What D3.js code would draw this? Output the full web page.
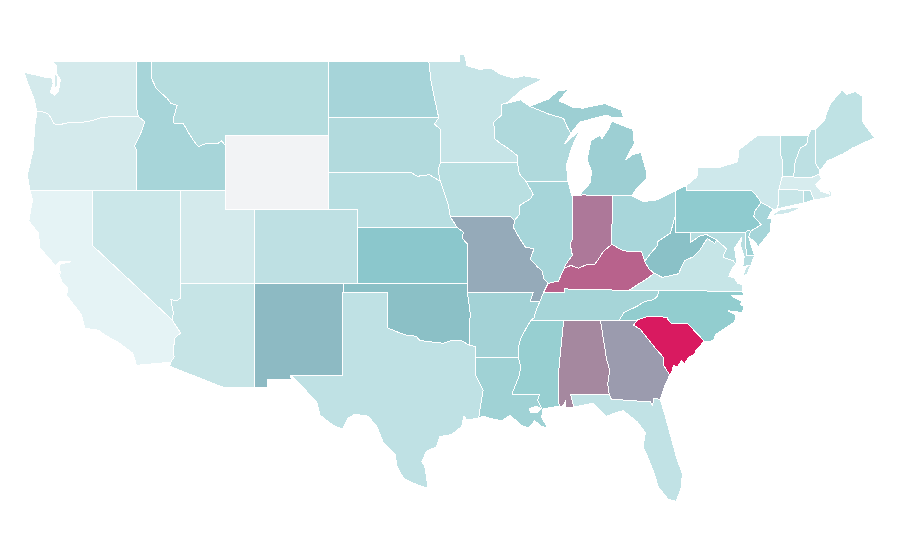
<!DOCTYPE html>
<html><head><meta charset="utf-8"><title>US states</title>
<script src="https://cdn.jsdelivr.net/npm/d3@7"></script>
<style>html,body{margin:0;background:#fff}svg{display:block}
path{stroke:#fff;stroke-width:1;stroke-linejoin:round;shape-rendering:crispEdges;fill-rule:evenodd}</style></head><body>
<svg id="map" width="900" height="560"></svg>
<script>
// Shared borders, [lon, lat]
const columbia=[[-123.8,46.25],[-123.4,46.25],[-123.0,46.12],[-122.8,45.85],[-122.65,45.6],[-122.2,45.57],[-121.5,45.7],[-120.8,45.68],[-120.2,45.75],[-119.5,45.92],[-118.9,45.98],[-116.92,46.0]];
const snake=[[-116.92,46.0],[-116.5,45.72],[-116.65,45.3],[-116.9,44.85],[-117.2,44.4],[-117.05,44.2],[-117.03,43.8],[-117.03,42]];
const idMt=[[-116.05,49],[-116.05,48.1],[-115.7,47.5],[-115.0,47.0],[-114.7,46.7],[-114.3,46.6],[-114.55,45.9],[-114.5,45.6],[-113.9,45.65],[-113.5,45.1],[-113.1,44.6],[-112.85,44.38],[-112.3,44.55],[-111.5,44.55],[-111.3,44.7],[-111.05,44.45]];
const colorado=[[-114.05,36.2],[-114.3,36.05],[-114.72,36.1],[-114.55,35.4],[-114.63,35.0]];
const caAz=[[-114.63,35.0],[-114.4,34.7],[-114.05,34.3],[-114.45,34.03],[-114.55,33.4],[-114.5,33.0],[-114.72,32.72]];
const redRiver=[[-100,34.56],[-99.5,34.4],[-99.2,34.3],[-98.6,34.15],[-98.1,34.13],[-97.85,33.9],[-97.4,33.85],[-96.95,33.8],[-96.5,33.8],[-96.3,33.72],[-95.8,33.87],[-95.1,33.92],[-94.48,33.64]];
const rioGrande=[[-97.3,25.9],[-98.05,26.1],[-98.95,26.45],[-99.4,27.1],[-99.5,27.7],[-100.3,28.35],[-100.75,29.25],[-101.35,29.8],[-102.25,29.9],[-102.7,29.7],[-103.1,29.1],[-103.7,29.3],[-104.6,29.85],[-104.85,30.6],[-105.95,31.5],[-106.5,31.94],[-106.62,32]];
const ndMn=[[-97.23,49],[-97.1,48.0],[-96.85,47.0],[-96.56,45.93]];
const sdMn=[[-96.56,45.93],[-96.85,45.6],[-96.45,45.3],[-96.45,43.5]];
const sdIa=[[-96.45,43.5],[-96.6,43.1],[-96.45,42.5]];
const sdNe=[[-96.45,42.5],[-97.2,42.85],[-98.0,42.77],[-98.5,43],[-104.05,43]];
const iaNe=[[-96.45,42.5],[-96.1,41.7],[-95.9,41.2],[-95.77,40.58]];
const neMo=[[-95.77,40.58],[-95.31,40.0]];
const moKs=[[-95.31,40.0],[-94.9,39.75],[-94.95,39.4],[-94.6,39.1],[-94.62,37]];
const mnWi=[[-92.0,46.7],[-92.3,46.66],[-92.3,46.08],[-92.88,45.66],[-92.75,45.3],[-92.75,44.78],[-92.3,44.5],[-91.9,44.3],[-91.25,43.9],[-91.22,43.5]];
const iaWi=[[-91.22,43.5],[-91.1,42.9],[-90.65,42.5]];
const iaIl=[[-90.65,42.5],[-90.15,41.8],[-90.35,41.55],[-91.05,41.2],[-91.1,40.7],[-91.42,40.38]];
const moIl=[[-91.42,40.38],[-91.5,40.0],[-91.1,39.45],[-90.7,38.95],[-90.1,38.85],[-90.35,38.3],[-89.9,37.9],[-89.55,37.65],[-89.45,37.25],[-89.15,36.98]];
const moKy=[[-89.15,36.98],[-89.45,36.5]];
const moTn=[[-89.45,36.5],[-89.7,36.0]];
const arTn=[[-89.7,36.0],[-89.95,35.55],[-90.1,35.1],[-90.3,35.0]];
const arMs=[[-90.3,35.0],[-90.6,34.6],[-91.0,34.0],[-91.15,33.55],[-91.17,33.0]];
const laMs=[[-91.17,33.0],[-91.0,32.45],[-91.1,32.0],[-91.6,31.0],[-89.73,31],[-89.85,30.65],[-89.55,30.18]];
const txLa=[[-94.04,33],[-94.04,32],[-93.55,31.2],[-93.7,30.5],[-93.85,29.7]];
const msAl=[[-88.2,35],[-88.1,34.9],[-88.47,31.9],[-88.4,30.35]];
const alGa=[[-85.6,35],[-85.18,32.87],[-84.97,32.3],[-85.1,31.55],[-85.0,31]];
const gaFl=[[-85.0,31],[-84.86,30.72],[-82.2,30.57],[-82.05,30.35],[-82.0,30.75],[-81.55,30.72]];
const alFl=[[-85.0,31],[-87.6,31],[-87.6,30.9],[-87.4,30.3]];
const gaSc=[[-80.9,32.03],[-81.35,32.6],[-81.35,33.0],[-81.9,33.5],[-82.4,34.0],[-82.9,34.5],[-83.35,34.72],[-83.1,35.0]];
const ncSc=[[-83.1,35.0],[-82.4,35.2],[-81.05,35.15],[-81.05,35.05],[-80.8,34.82],[-79.68,34.8],[-78.55,33.85]];
const tnNc=[[-81.68,36.59],[-81.7,36.3],[-82.0,36.1],[-82.6,36.0],[-83.1,35.75],[-84.0,35.4],[-84.32,35]];
const tnKy=[[-89.45,36.5],[-88.05,36.5],[-88.05,36.68],[-83.67,36.6]];
const kyVa=[[-83.67,36.6],[-83.1,36.9],[-82.3,37.3],[-81.97,37.54]];
const kyWv=[[-81.97,37.54],[-82.3,37.75],[-82.6,38.17]];
const ohKy=[[-82.6,38.17],[-82.8,38.7],[-83.6,38.68],[-84.2,38.8],[-84.82,39.1]];
const inKy=[[-84.82,39.1],[-85.4,38.7],[-85.75,38.27],[-86.0,38.0],[-86.5,38.0],[-87.1,37.8],[-87.6,37.95],[-88.05,37.8]];
const ilKy=[[-88.05,37.8],[-88.45,37.1],[-89.15,36.98]];
const ilIn=[[-87.52,41.72],[-87.52,39.35],[-87.65,39.1],[-87.5,38.5],[-87.95,38.0],[-88.05,37.8]];
const wvOh=[[-82.6,38.17],[-82.2,38.6],[-81.75,39.0],[-81.7,39.25],[-80.85,39.7],[-80.52,40.64]];
const vaWv=[[-81.97,37.54],[-81.4,37.3],[-80.3,37.5],[-79.9,38.2],[-79.3,38.42],[-78.87,38.77],[-78.35,39.4],[-77.83,39.14],[-77.72,39.32]];
const mdWv=[[-79.48,39.72],[-79.48,39.2],[-78.85,39.55],[-78.4,39.62],[-77.72,39.32]];
const mdVa=[[-77.72,39.32],[-77.05,38.85],[-77.3,38.4],[-76.6,38.2],[-76.35,37.95]];
const delRiver=[[-75.35,42],[-75.05,41.75],[-74.7,41.36],[-75.15,40.85],[-75.2,40.6],[-74.7,40.15],[-75.42,39.8]];
const paDe=[[-75.42,39.8],[-75.6,39.84],[-75.79,39.72]];
const nyVt=[[-73.27,42.75],[-73.25,43.6],[-73.4,44.0],[-73.35,45]];
const vtNh=[[-71.5,45],[-71.6,44.5],[-72.05,44.3],[-72.4,43.55],[-72.5,42.73]];
const nhMe=[[-71.05,45.3],[-70.98,43.4],[-70.7,43.07]];
const wiMi=[[-90.4,46.55],[-89.1,46.13],[-88.1,45.9],[-87.8,45.35],[-87.6,45.1]];
const r=a=>a.slice().reverse();

const stateNames=["Washington","Oregon","California","Nevada","Idaho","Montana","Wyoming","Utah","Colorado","Arizona","New Mexico","North Dakota","South Dakota","Nebraska","Kansas","Oklahoma","Texas","Minnesota","Iowa","Missouri","Arkansas","Louisiana","Wisconsin","Illinois","Mississippi","Alabama","Tennessee","Kentucky","Indiana","Michigan","Ohio","West Virginia","Virginia","North Carolina","South Carolina","Georgia","Florida","Pennsylvania","New York","Vermont","New Hampshire","Maine","Massachusetts","Connecticut","Rhode Island","New Jersey","Delaware","Maryland"];
const stateColors=["#d4eaec","#d4eaec","#e5f3f5","#cbe7e9","#a7d5d9","#b6dddf","#f2f3f5","#d4eaec","#bee0e3","#c6e4e6","#8dbac3","#a6d4d9","#b2dadd","#b8dee1","#8bc7cc","#8bc0c6","#bfe1e4","#c6e4e7","#b9dfe1","#95aab9","#a3d2d6","#a0d2d5","#afd9dc","#a6d5d9","#97cfd1","#a5889f","#a6d5d8","#b8628c","#ad7899","#9dcfd3","#a8d6da","#8ac1c7","#c6e5e7","#92cdcf","#d91a60","#9b9bae","#c1e2e5","#8fcbcf","#cee8eb","#b6dee0","#bde0e3","#bfe2e4","#d7ecee","#c8e6e8","#b9dfe2","#a6d5d9","#a0d3d6","#b6dde0"];
const stateRings=[
[[[-122.76,49],[-117.03,49],[-117.03,46.4],...r(columbia),[-124.0,46.95],[-124.5,47.95],[-124.65,48.38],[-123.2,48.12],[-122.8,48.1],[-122.7,47.8],[-122.9,47.3],[-122.6,47.15],[-122.35,47.35],[-122.2,48.0],[-122.45,48.3],[-122.5,48.75]],
 [[-122.6,48.3],[-122.4,48.2],[-122.4,47.75],[-122.5,47.45],[-122.62,47.7]]],
[[...columbia,...snake,[-124.28,42],[-124.45,42.85],[-124.05,44.2],[-123.95,45.5]]],
[[[-124.28,42],[-120,42],[-120,39],...caAz,[-117.05,32.55],[-117.3,33.2],[-118.3,33.8],[-119.0,34.1],[-119.65,34.45],[-120.55,34.55],[-120.8,35.3],[-121.8,36.35],[-121.7,36.7],[-122.1,37.05],[-122.4,37.7],[-122.2,37.5],[-122.3,37.85],[-122.2,38.02],[-121.5,38.15],[-122.3,38.15],[-122.55,37.9],[-122.7,38.08],[-123.6,38.9],[-123.7,39.7],[-124.35,40.35],[-124.1,41.5]]],
[[[-120,42],[-114.05,42],...colorado,[-120,39]]],
[[[-117.03,49],...idMt,[-111.05,42],[-117.03,42],...r(snake),[-117.03,46.4]]],
[[[-116.05,49],[-104.05,49],[-104.05,45],[-111.05,45],...r(idMt)]],
[[[-111.05,45],[-104.05,45],[-104.05,41],[-111.05,41]]],
[[[-114.05,42],[-111.05,42],[-111.05,41],[-109.05,41],[-109.05,37],[-114.05,37]]],
[[[-109.05,41],[-102.05,41],[-102.05,37],[-109.05,37]]],
[[[-114.05,37],[-109.05,37],[-109.05,31.33],[-111.07,31.33],[-114.8,32.5],...r(caAz),...r(colorado)]],
[[[-109.05,37],[-103,37],[-103.06,32],[-106.62,32],[-106.53,31.78],[-108.2,31.78],[-108.2,31.33],[-109.05,31.33]]],
[[[-104.05,49],...ndMn,[-104.05,45.93]]],
[[[-104.05,45.93],...sdMn,...sdIa,...sdNe]],
[[[-104.05,43],...r(sdNe),...iaNe,...neMo,[-102.05,40],[-102.05,41],[-104.05,41]]],
[[[-102.05,40],[-95.31,40],...moKs.slice(1),[-102.05,37]]],
[[[-103,37],[-94.62,37],[-94.62,36.5],[-94.43,35.4],...r(redRiver),[-100,36.5],[-103,36.5]]],
[[[-103.06,36.5],[-100,36.5],...redRiver,[-94.04,33.55],...txLa,[-94.65,29.6],[-94.85,29.8],[-95.0,29.25],[-95.7,28.8],[-96.5,28.7],[-96.7,28.15],[-97.4,27.9],[-97.7,27.35],[-97.5,27.07],[-97.35,26.3],...rioGrande,[-103.06,32]]],
[[[-97.23,49],[-95.15,49],[-95.15,49.35],[-94.8,49.33],[-94.65,48.75],[-93.8,48.55],[-93.0,48.6],[-92.4,48.3],[-91.5,48.07],[-90.8,48.2],[-90.0,48.1],[-89.55,48.0],[-90.9,47.45],...mnWi,[-96.45,43.5],...r(sdMn),...r(ndMn)]],
[[[-96.45,43.5],[-91.22,43.5],...iaWi,...iaIl,[-91.72,40.6],[-95.77,40.58],...r(iaNe),...r(sdIa)]],
[[[-95.77,40.58],[-91.72,40.6],[-91.42,40.38],...moIl,...moKy,...moTn,[-90.37,36.0],[-90.15,36.5],[-94.62,36.5],...r(moKs),...r(neMo)]],
[[[-94.62,36.5],[-90.15,36.5],[-90.37,36.0],[-89.7,36.0],...arTn,...arMs,[-94.04,33],[-94.04,33.55],[-94.48,33.64],[-94.43,35.4]]],
[[[-94.04,33],...laMs,[-89.5,30.0],[-89.6,29.75],[-89.15,29.15],[-89.6,29.25],[-90.05,29.55],[-90.5,29.15],[-91.05,29.35],[-91.7,29.85],[-92.3,29.55],[-92.9,29.65],[-93.55,29.8],...r(txLa).slice(0,-1)],
 [[-90.4,30.2],[-89.95,30.35],[-89.65,30.2],[-89.9,30.0],[-90.35,30.0]]],
[[[-92.0,46.7],[-91.0,46.9],[-90.4,46.55],...wiMi,[-88.0,44.55],[-87.0,45.25],[-87.5,44.4],[-87.9,43.4],[-87.8,42.5],[-90.65,42.5],...r(iaWi),...r(mnWi).slice(0,-1)]],
[[[-90.65,42.5],[-87.8,42.5],[-87.6,41.9],...ilIn,...ilKy,...r(moIl),...r(iaIl)]],
[[[-90.3,35],[-88.2,35],...msAl.slice(1),[-89.55,30.18],...r(laMs).slice(1),...r(arMs).slice(0,-1)]],
[[[-88.2,35],[-85.6,35],...alGa,...alFl.slice(1),[-88.0,30.25],[-87.95,30.65],[-88.15,30.35],[-88.4,30.35],...r(msAl).slice(1,-1)]],
[[...tnKy,[-81.68,36.59],...tnNc,[-85.6,35],[-88.2,35],[-90.3,35],...r(arTn),...r(moTn).slice(1)]],
[[[-89.45,36.5],[-89.15,36.98],...r(ilKy).slice(1),...r(inKy).slice(1),...r(ohKy).slice(1),...r(kyWv).slice(1),...r(kyVa).slice(1),...r(tnKy).slice(1)]],
[[[-87.52,41.72],[-86.8,41.76],[-84.8,41.73],[-84.82,39.1],...inKy.slice(1),...r(ilIn).slice(1)]],
[[[-86.8,41.76],[-87.05,41.72],[-86.3,42.4],[-86.2,43.0],[-86.5,43.7],[-86.25,44.7],[-85.6,45.0],[-85.5,44.8],[-85.0,45.4],[-84.85,45.75],[-83.4,45.3],[-83.3,44.55],[-83.9,43.65],[-83.4,43.95],[-82.85,44.05],[-82.45,42.95],[-82.5,42.6],[-83.15,42.1],[-83.47,41.72],[-84.8,41.73]],
 [[-90.4,46.55],[-89.1,46.95],[-88.45,47.4],[-87.8,47.45],[-88.4,46.85],[-87.5,46.5],[-86.8,46.45],[-85.3,46.7],[-84.2,46.35],[-84.1,46.1],[-84.0,45.95],[-84.8,45.95],[-85.2,46.08],[-86.5,45.8],[-87.0,45.7],[-87.6,45.1],...r(wiMi).slice(1,-1)],
 [[-89.1,47.95],[-88.5,48.18],[-88.9,47.95]]],
[[[-80.52,41.98],[-81.7,41.5],[-82.7,41.4],[-83.47,41.72],[-84.8,41.73],[-84.82,39.1],...r(ohKy).slice(1),...wvOh.slice(1)]],
[[[-80.52,40.64],[-80.52,39.72],...mdWv,...r(vaWv).slice(1),...kyWv.slice(1),...wvOh.slice(1)]],
[[[-83.67,36.6],...kyVa.slice(1),...vaWv.slice(1),...mdVa.slice(1),[-76.6,37.9],[-76.9,37.35],[-76.55,37.3],[-76.3,37.0],[-76.0,36.9],[-75.95,36.55],[-81.68,36.59]],
 [[-75.95,37.35],[-75.7,37.9],[-75.4,37.95],[-75.65,37.5]]],
[[[-84.32,35],...r(tnNc).slice(1),[-75.95,36.55],[-75.9,36.3],[-76.7,36.3],[-76.0,36.0],[-76.1,35.85],[-75.85,35.7],[-76.0,35.4],[-76.95,35.5],[-76.4,35.25],[-76.5,34.9],[-77.8,34.2],[-77.95,33.87],[-78.55,33.85],...r(ncSc).slice(1)]],
[[[-83.1,35.0],...ncSc.slice(1),[-79.1,33.4],[-79.2,33.15],[-79.6,33.0],[-79.9,32.65],[-80.1,32.8],[-80.4,32.45],[-80.65,32.55],[-80.75,32.2],[-80.9,32.03],...gaSc.slice(1,-1)]],
[[[-85.6,35],[-84.32,35],[-83.1,35],...r(gaSc).slice(1),[-81.2,31.5],[-81.55,30.72],...r(gaFl).slice(1,-1),...r(alGa).slice(0,-1)]],
[[[-87.6,31],[-85.0,31],...gaFl.slice(1),[-81.2,29.8],[-80.45,27.6],[-80.05,26.7],[-80.1,26.0],[-80.45,25.2],[-81.0,25.3],[-81.7,26.0],[-81.9,26.6],[-82.4,27.6],[-82.7,28.15],[-82.55,28.9],[-83.1,29.5],[-84.05,30.1],[-84.5,30.0],[-85.2,29.8],[-86.1,30.5],[-87.4,30.3],[-87.6,30.9]]],
[[[-80.52,41.98],[-79.76,42.27],[-79.76,42],...delRiver,...paDe.slice(1),[-80.52,39.72]]],
[[[-79.76,42.27],[-79.05,42.75],[-79.0,43.27],[-77.5,43.25],[-76.3,43.55],[-76.2,44.2],[-75,44.95],[-74.7,45],[-73.35,45],...r(nyVt).slice(1),[-73.5,42.05],[-73.5,41.3],[-73.65,41.0],[-73.9,41.0],[-74.7,41.36],[-75.05,41.75],[-75.35,42],[-79.76,42]],
 [[-74.0,40.65],[-73.5,40.93],[-72.5,41.08],[-71.95,41.08],[-72.9,40.75]]],
[[[-73.35,45],[-71.5,45],...vtNh.slice(1),...nyVt.slice(0,-1)]],
[[[-71.5,45],[-71.3,45.3],[-71.05,45.3],...nhMe.slice(1),[-70.8,42.87],[-71.3,42.7],[-72.5,42.73],...r(vtNh).slice(1,-1)]],
[[[-71.05,45.3],[-70.4,45.8],[-70.25,46.2],[-70.0,46.7],[-69.2,47.45],[-68.9,47.2],[-68.3,47.35],[-67.8,47.07],[-67.8,45.7],[-67.45,45.3],[-67.0,44.85],[-68.5,44.3],[-69.1,44.0],[-70.2,43.6],[-70.7,43.07],[-70.98,43.4]]],
[[[-73.27,42.75],[-72.5,42.73],[-71.3,42.7],[-70.8,42.87],[-70.6,42.65],[-71.0,42.3],[-70.65,41.95],[-70.05,41.8],[-70.2,42.07],[-69.95,41.95],[-69.95,41.67],[-70.65,41.55],[-71.12,41.5],[-71.38,42.02],[-71.8,42.02],[-73.5,42.05]]],
[[[-73.5,42.05],[-71.8,42.02],[-71.85,41.32],[-73.65,41.0],[-73.5,41.3]]],
[[[-71.8,42.02],[-71.38,42.02],[-71.12,41.5],[-71.85,41.32]]],
[[...r(delRiver).slice(0,5),[-73.9,41.0],[-74.25,40.5],[-74.0,40.45],[-74.1,39.75],[-74.9,38.95],[-75.1,39.2],[-75.55,39.5]]],
[[[-75.79,39.72],[-75.6,39.84],[-75.42,39.8],[-75.55,39.5],[-75.4,39.1],[-75.15,38.5],[-75.7,38.46]]],
[[[-79.48,39.72],[-75.79,39.72],[-75.7,38.46],[-75.15,38.5],[-75.4,37.95],[-75.95,37.9],[-75.85,38.4],[-76.1,39.05],[-76.0,39.5],[-76.5,38.9],[-76.4,38.35],[-76.35,37.95],...r(mdVa).slice(1),...r(mdWv).slice(1)]]
];

const lonScale=d3.scaleLinear().domain([-111.05,-104.05]).range([225,328.25]);
const latScale=d3.scaleLinear().domain([49,41]).range([61,209]);
const projection=d3.geoTransform({point(lon,lat){this.stream.point(lonScale(lon),latScale(lat));}});
const path=d3.geoPath(projection);
const features=stateNames.map((name,i)=>({type:"Feature",properties:{name,color:stateColors[i]},
  geometry:{type:"MultiPolygon",coordinates:stateRings[i].map(p=>[[...p,p[0]]])}}));
d3.select("#map").selectAll("path").data(features).join("path")
  .attr("d",path).attr("fill",d=>d.properties.color).append("title").text(d=>d.properties.name);
</script></body></html>
